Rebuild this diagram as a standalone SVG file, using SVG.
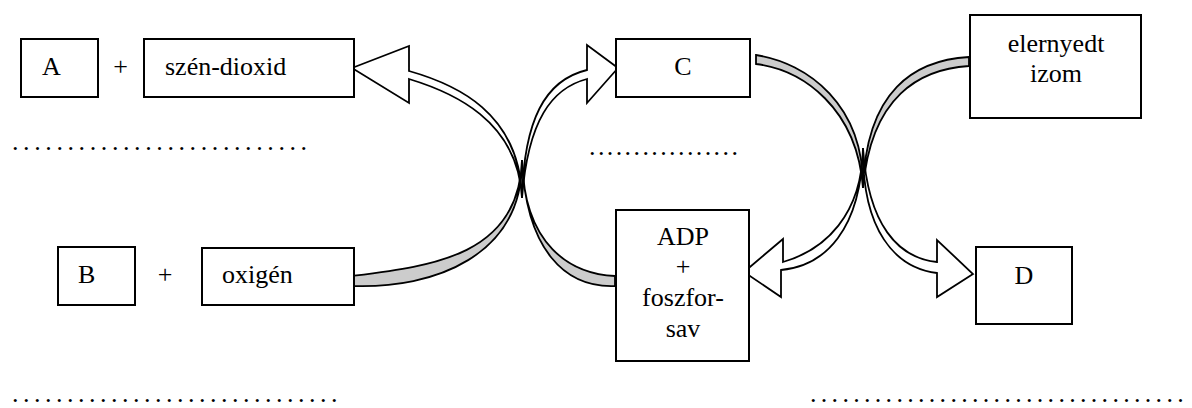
<svg xmlns="http://www.w3.org/2000/svg" width="1192" height="408" viewBox="0 0 1192 408">
<style>
.box{fill:#fff;stroke:#000;stroke-width:2}
text{font-family:"Liberation Serif","Times New Roman",serif;font-size:26px;fill:#000}
.m{text-anchor:middle}
.gray{fill:#cccccc;stroke:#000;stroke-width:1.8;stroke-linejoin:miter}
.hollow{fill:#fff;stroke:#000;stroke-width:1.8;stroke-linejoin:miter}
</style>
<rect width="1192" height="408" fill="#fff"/>
<g id="connectors">
<path class="gray" d="M352,276 C432,266 519,256 522,160 C523,256 434,289 352,286 Z"/>
<path class="gray" d="M615,276 C570,274 524,245 522,160 C526,250 565,288 615,286 Z"/>
<path class="hollow" d="M352,68 L409,46 L409,71 C455,84 520,112 522,198 C518,120 452,92 409,79 L409,103 Z"/>
<path class="hollow" d="M618,68 L587,45 L587,70 C545,80 524,120 522,198 C528,120 552,88 587,79 L587,103 Z"/>
<path class="gray" d="M756,55 C808,63 864,105 863,188 C857,108 803,70 756,64 Z"/>
<path class="gray" d="M969,57 C915,60 866,90 863,188 C871,96 920,69 969,66 Z"/>
<path class="hollow" d="M744,272 L783,239 L783,262 C825,250 862,215 863,148 C861,230 825,266 781,270 L781,297 Z"/>
<path class="hollow" d="M973,274 L937,297 L937,273 C895,268 862,230 863,148 C868,225 898,258 937,262 L937,240 Z"/>
</g>
<g id="nodeA"><rect class="box" x="21" y="39" width="77" height="58"/><text font-family="Liberation Serif, serif" x="42" y="75">A</text></g>
<g id="plus1"><text class="m" font-family="Liberation Serif, serif" x="120.5" y="75">+</text></g>
<g id="nodeCO2"><rect class="box" x="144" y="39" width="210" height="58"/><text font-family="Liberation Serif, serif" x="165" y="75">szén-dioxid</text></g>
<g id="nodeC"><rect class="box" x="616" y="39" width="134" height="58"/><text class="m" font-family="Liberation Serif, serif" x="683" y="75">C</text></g>
<g id="nodeMuscle"><rect class="box" x="970" y="15" width="171" height="103"/><text class="m" font-family="Liberation Serif, serif" x="1056" y="52">elernyedt</text><text class="m" font-family="Liberation Serif, serif" x="1056" y="82">izom</text></g>
<g id="nodeB"><rect class="box" x="58" y="247" width="77" height="58"/><text font-family="Liberation Serif, serif" x="78" y="283">B</text></g>
<g id="plus2"><text class="m" font-family="Liberation Serif, serif" x="165" y="283">+</text></g>
<g id="nodeO2"><rect class="box" x="202" y="248" width="152" height="57"/><text font-family="Liberation Serif, serif" x="222" y="283">oxigén</text></g>
<g id="nodeADP"><rect class="box" x="616" y="210" width="133" height="151"/>
<text class="m" font-family="Liberation Serif, serif" x="683" y="245">ADP</text><text class="m" font-family="Liberation Serif, serif" x="683" y="275">+</text><text class="m" font-family="Liberation Serif, serif" x="683" y="306">foszfor-</text><text class="m" font-family="Liberation Serif, serif" x="683" y="337">sav</text></g>
<g id="nodeD"><rect class="box" x="976" y="247" width="96" height="77"/><text class="m" font-family="Liberation Serif, serif" x="1024" y="284">D</text></g>
<g id="blanks">
<text font-family="Liberation Serif, serif" x="12" y="150" letter-spacing="4.6">...........................</text>
<text font-family="Liberation Serif, serif" x="589" y="155" letter-spacing="2.4">.................</text>
<text font-family="Liberation Serif, serif" x="12" y="402" letter-spacing="4.5">..............................</text>
<text font-family="Liberation Serif, serif" x="810" y="402" letter-spacing="4.3">...................................</text>
</g>
</svg>
